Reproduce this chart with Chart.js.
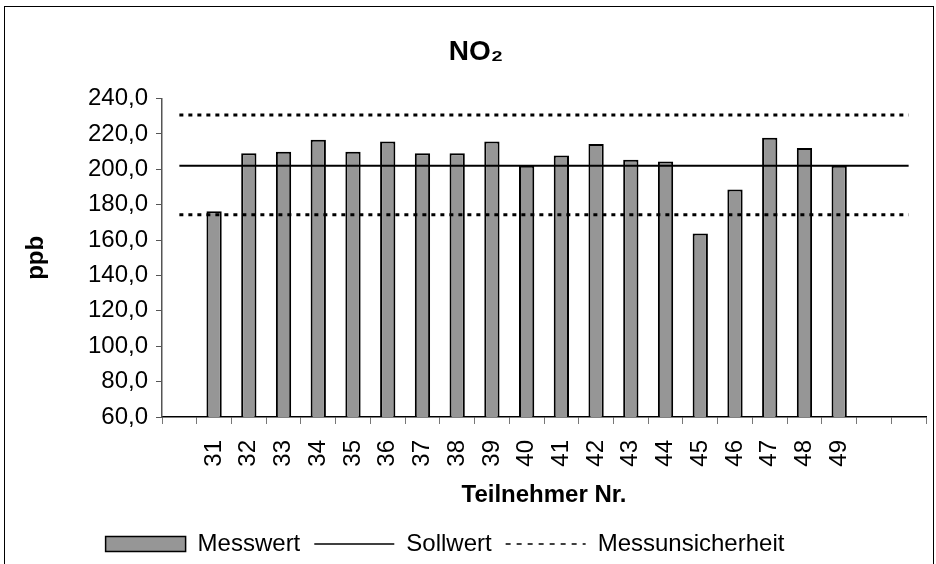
<!DOCTYPE html>
<html>
<head>
<meta charset="utf-8">
<script src="https://cdn.jsdelivr.net/npm/chart.js@4/dist/chart.umd.min.js"></script>
<style>
  html, body { margin: 0; padding: 0; background: #fff; overflow: hidden; }
  #frame { position: absolute; left: 4px; top: 6px; width: 930px; height: 600px; border: 1px solid #000; box-sizing: border-box; }
  #wrap { position: absolute; left: 0; top: 0; width: 936px; height: 564px; }
</style>
</head>
<body>
<div id="frame"></div>
<div id="wrap"><canvas id="no2" width="936" height="564"></canvas></div>
<script>
// Teilnehmer und Messwerte (ppb)
const teilnehmer = ['31', '32', '33', '34', '35', '36', '37', '38', '39', '40',
                    '41', '42', '43', '44', '45', '46', '47', '48', '49'];
const messwert = [176.3, 209.1, 210.0, 216.8, 210.0, 215.7, 209.1, 209.1, 215.7, 202.1,
                  207.8, 214.4, 205.5, 204.4, 163.7, 188.6, 217.9, 212.1, 202.1];
const sollwert = 202.1;
const unsicherheitOben = 230.7;
const unsicherheitUnten = 174.3;
const yMin = 60, yMax = 240, yStep = 20;

// one empty slot before, two after (like the original sheet)
const labels = ['', ...teilnehmer, '', ''];
const bars = [null, ...messwert, null, null];
const line = v => labels.map(() => v);

Chart.defaults.font.family = "'Liberation Sans', Arial, sans-serif";
Chart.defaults.color = '#000';

function shiftDraw(box, dx, dy) {
  const orig = box.draw;
  box.draw = function (...args) {
    this.ctx.save();
    this.ctx.translate(dx, dy);
    orig.apply(this, args);
    this.ctx.restore();
  };
}

const nudge = {
  id: 'nudge',
  afterLayout(chart) {
    if (chart.$nudged) return;
    chart.$nudged = true;
    shiftDraw(chart.titleBlock, 13, 1);
    shiftDraw(chart.legend, -18, 2);
  }
};

const ctx = document.getElementById('no2');

const chart = new Chart(ctx, {
  type: 'bar',
  data: {
    labels: labels,
    datasets: [
      { label: 'Messwert', data: bars, backgroundColor: '#969696', borderColor: '#000',
        borderWidth: 2, barPercentage: 0.44, categoryPercentage: 1, order: 2 },
      { type: 'line', label: 'Sollwert', data: line(sollwert), borderColor: '#000',
        borderWidth: 2, pointRadius: 0, order: 1 },
      { type: 'line', label: 'Messunsicherheit', data: line(unsicherheitOben), borderColor: '#000',
        borderWidth: 3, borderDash: [4, 5], pointRadius: 0, order: 1 },
      { type: 'line', label: 'Messunsicherheit', data: line(unsicherheitUnten), borderColor: '#000',
        borderWidth: 3, borderDash: [4, 5], pointRadius: 0, order: 1 }
    ]
  },
  options: {
    responsive: false,
    animation: false,
    devicePixelRatio: 1,
    layout: { padding: { left: 0, right: 10, top: 0, bottom: 0 } },
    plugins: {
      tooltip: { enabled: false },
      title: {
        display: true,
        text: 'NO₂',
        font: { size: 28, weight: 'bold' },
        padding: { top: 34, bottom: 31 }
      },
      legend: {
        position: 'bottom',
        labels: {
          usePointStyle: true,
          pointStyleWidth: 80,
          boxHeight: 15,
          padding: 14,
          font: { size: 24 },
          generateLabels: () => [
            { text: 'Messwert', fillStyle: '#969696', strokeStyle: '#000', lineWidth: 1.5,
              pointStyle: 'rect', datasetIndex: 0 },
            { text: 'Sollwert', fillStyle: '#000', strokeStyle: '#000', lineWidth: 1.5,
              pointStyle: 'line', datasetIndex: 1 },
            { text: 'Messunsicherheit', fillStyle: '#000', strokeStyle: '#000', lineWidth: 1.5,
              lineDash: [5, 6], pointStyle: 'line', datasetIndex: 2 }
          ]
        }
      }
    },
    scales: {
      x: {
        afterFit: s => { s.height = 99; s.paddingLeft = 0; s.paddingRight = 0; },
        border: { color: '#000', width: 1.5 },
        grid: { display: true, drawOnChartArea: false, drawTicks: true, tickLength: 7, color: '#777' },
        ticks: { autoSkip: false, minRotation: 90, maxRotation: 90, padding: 16, font: { size: 24 } },
        title: { display: true, text: 'Teilnehmer Nr.', font: { size: 24, weight: 'bold' },
                 padding: { top: 0, bottom: 6 } }
      },
      y: {
        min: yMin,
        max: yMax,
        afterFit: s => { s.width = 162; },
        border: { color: '#555', width: 1.5 },
        grid: { display: true, drawOnChartArea: false, drawTicks: true, tickLength: 6, color: '#555' },
        ticks: {
          stepSize: yStep,
          padding: 8,
          font: { size: 24 },
          callback: v => v.toFixed(1).replace('.', ',')
        },
        title: { display: true, text: 'ppb', font: { size: 24, weight: 'bold' },
                 padding: { top: 22, bottom: 0 } }
      }
    }
  },
  plugins: [nudge]
});
</script>
</body>
</html>
